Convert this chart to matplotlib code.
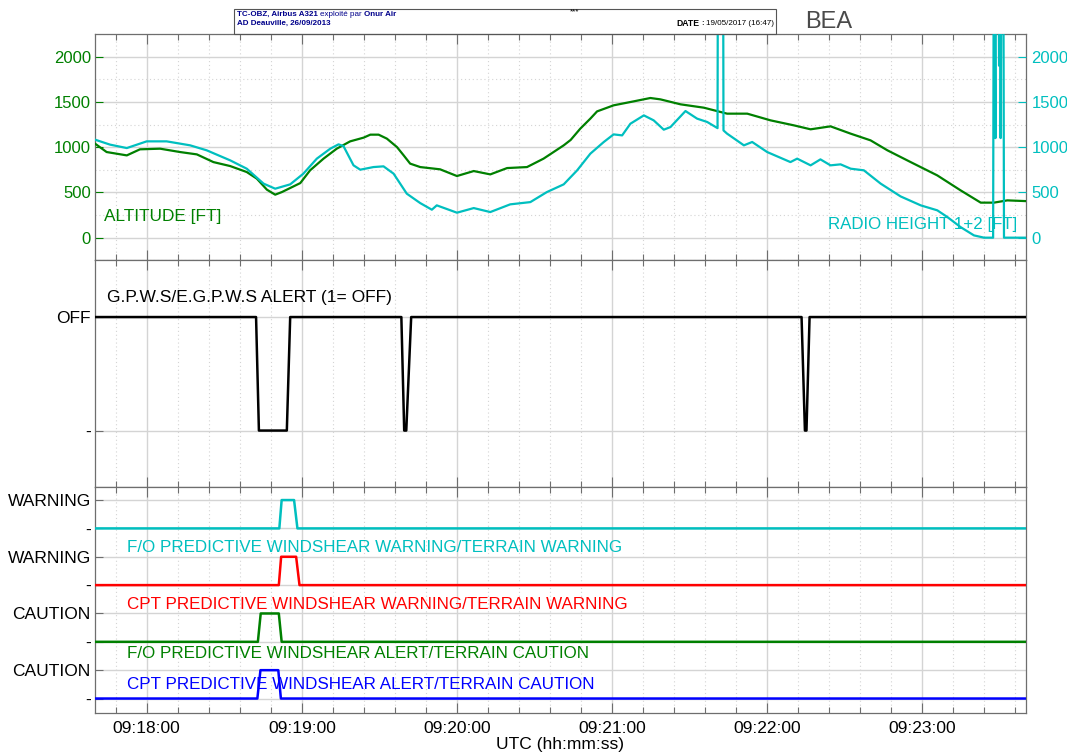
import numpy as np
import matplotlib
matplotlib.use("Agg")
import matplotlib.pyplot as plt
from matplotlib.ticker import FixedLocator, FuncFormatter, MultipleLocator
from matplotlib import font_manager
from matplotlib.patches import Rectangle

# ---------------- data (time in seconds after 09:17:40 UTC) ----------------
T0_LABEL = (9, 17, 40)
x_major_ticks = [20, 80, 140, 200, 260, 320]          # 09:18:00 ... 09:23:00

alt_t = [0, 4.5, 12.3, 17.4, 25.2, 32.9, 39.4, 45.8, 52.3, 58.7, 62.6, 66.5, 69.7,
         72.3, 79.4, 83.2, 88.4, 93.5, 98.7, 103.9, 106.5, 109.7, 112.9, 116.8,
         119.4, 121.9, 125.8, 133.5, 140, 146.5, 152.9, 159.4, 167.1, 173.5,
         181.3, 184.0, 187.7, 191.6, 194.2, 200.6, 208.4, 214.8, 218.7, 226.5,
         235.5, 244.5, 252.3, 261.3, 270.3, 276.8, 284.5, 292.3, 300, 306.5,
         315.5, 325.8, 334.8, 342.6, 347.7, 352.9, 360]
alt_v = [1039, 946, 909, 976, 983, 946, 920, 835, 791, 725, 652, 530, 475,
         504, 603, 744, 873, 983, 1064, 1105, 1138, 1138, 1094, 1001,
         909, 818, 780, 755, 681, 736, 699, 769, 780, 873,
         1020, 1080, 1204, 1315, 1395, 1462, 1506, 1543, 1528, 1473,
         1436, 1370, 1370, 1296, 1241, 1197, 1230, 1149, 1075, 965,
         835, 688, 523, 387, 387, 412, 404]

rh_t = [0, 5.8, 12.3, 20, 27.7, 36.8, 43.2, 52.3, 58.7, 65.2, 69.7, 75.5, 80.6,
        85.8, 91, 94.2, 96.1, 100, 102.6, 107.7, 111.6, 115.5, 120.6, 125.8,
        130.3, 132.2, 140, 146.5, 152.9, 160.6, 168.4, 174.8, 181.3, 186.5,
        191.6, 196.8, 200.6, 203.9, 207.1, 212.3, 216.1, 220, 222.6, 228.4,
        232.9, 236.8, 240.8, 241.0, 242.9, 243.1, 244.5, 251, 254.2, 260, 269,
        271.6, 276.8, 280.6, 284.5, 288.4, 292.3, 297.4, 303.9, 311.6, 319.4,
        325.8, 329.7, 334.8, 340, 343.9, 347.4, 347.7, 348.3, 348.6, 349.4,
        349.7, 350.0, 350.3, 350.7, 351.3, 351.6, 360]
rh_v = [1083, 1028, 990, 1064, 1064, 1020, 965, 854, 762, 597, 541, 589, 707,
        873, 983, 1031, 1012, 799, 751, 780, 788, 707, 486, 382,
        309, 357, 276, 327, 283, 368, 393, 504, 589, 744,
        928, 1057, 1141, 1130, 1259, 1351, 1296, 1193, 1222, 1399,
        1315, 1278, 1210, 4000, 4000, 1185, 1149, 1020, 1057, 946, 835,
        873, 799, 865, 799, 810, 762, 744, 597, 456, 357,
        302, 228, 117, 25, 0, 0, 4000, 1100, 4000, 4000,
        1900, 4000, 1100, 4000, 4000, 0, 0]

gpws_t = [0, 62.3, 63.4, 74.2, 75.5, 118.5, 119.6, 120.4, 122.3, 273.3, 274.6, 275.2, 276.4, 360]
gpws_v = [1, 1, 0, 0, 1, 1, 0, 0, 1, 1, 0, 0, 1, 1]

cpt_caut_t = [0, 62.8, 64.0, 70.9, 71.9, 360]
cpt_caut_v = [0, 0, 1, 1, 0, 0]
fo_caut_t = [0, 63.0, 64.1, 71.1, 72.2, 360]
fo_caut_v = [0, 0, 1, 1, 0, 0]
cpt_warn_t = [0, 71.1, 72.0, 77.8, 79.1, 360]
cpt_warn_v = [0, 0, 1, 1, 0, 0]
fo_warn_t = [0, 71.3, 72.2, 77.0, 78.3, 360]
fo_warn_v = [0, 0, 1, 1, 0, 0]

discrete_names = ["CPT PREDICTIVE WINDSHEAR ALERT/TERRAIN CAUTION",
                  "F/O PREDICTIVE WINDSHEAR ALERT/TERRAIN CAUTION",
                  "CPT PREDICTIVE WINDSHEAR WARNING/TERRAIN WARNING",
                  "F/O PREDICTIVE WINDSHEAR WARNING/TERRAIN WARNING"]
discrete_on_labels = ["CAUTION", "CAUTION", "WARNING", "WARNING"]
alt_ticks = [0, 500, 1000, 1500, 2000]

# ---------------- style ----------------
GREEN = "#008000"
CYAN = "#00BFBF"
RED = "#FF0000"
BLUE = "#0000FF"
GRID = "#d4d4d4"
SPINE = "#6e6e6e"

def has_font(name):
    try:
        font_manager.findfont(font_manager.FontProperties(family=name), fallback_to_default=False)
        return True
    except Exception:
        return False

BASE = "Liberation Sans" if has_font("Liberation Sans") else "DejaVu Sans"
NARROW = "Liberation Sans Narrow" if has_font("Liberation Sans Narrow") else BASE
plt.rcParams["font.family"] = [BASE, "DejaVu Sans"]

fig = plt.figure(figsize=(10.67, 7.53), dpi=100)
W, H = 1067, 753
L, R = 95 / W, 1025.7 / W
def fy(p):
    return 1 - p / H
ax1 = fig.add_axes([L, fy(260.3), R - L, fy(34) - fy(260.3)])
ax2 = fig.add_axes([L, fy(487.3), R - L, fy(260.3) - fy(487.3)])
ax3 = fig.add_axes([L, fy(712.7), R - L, fy(487.3) - fy(712.7)])

minor_x = [v for v in np.arange(8, 360, 12) if v not in x_major_ticks]

def hhmmss(v, pos=None):
    s = T0_LABEL[0] * 3600 + T0_LABEL[1] * 60 + T0_LABEL[2] + int(round(v))
    return "%02d:%02d:%02d" % (s // 3600, (s // 60) % 60, s % 60)

for ax in (ax1, ax2, ax3):
    ax.set_xlim(0, 360)
    ax.xaxis.set_major_locator(FixedLocator(x_major_ticks))
    ax.xaxis.set_minor_locator(FixedLocator(minor_x))
    ax.grid(True, which="major", axis="x", color=GRID, lw=1.0, ls="-")
    ax.grid(True, which="minor", axis="x", color=GRID, lw=0.8, ls=(0, (1, 2.5)))
    ax.tick_params(axis="x", which="both", direction="in", top=True, bottom=True,
                   colors=SPINE, labelbottom=False)
    ax.tick_params(axis="x", which="major", length=7, width=0.8)
    ax.tick_params(axis="x", which="minor", length=4, width=0.8)
    for s in ax.spines.values():
        s.set_color(SPINE)
        s.set_linewidth(0.9)
    ax.set_axisbelow(True)

# ---- panel 1: altitude / radio height ----
ax1.set_ylim(-250, 2250)
ax1.yaxis.set_major_locator(FixedLocator(alt_ticks))
ax1.yaxis.set_minor_locator(MultipleLocator(250))
ax1.grid(True, which="major", axis="y", color=GRID, lw=1.0)
ax1.grid(True, which="minor", axis="y", color=GRID, lw=0.8, ls=(0, (1, 2.5)))
ax1.tick_params(axis="y", which="major", direction="in", length=6, colors=GREEN,
                labelcolor=GREEN, labelsize=12, pad=3)
ax1.tick_params(axis="y", which="minor", length=0)
ax1.plot(alt_t, alt_v, color=GREEN, lw=1.6, zorder=3)
ax1r = ax1.twinx()
ax1r.set_ylim(-250, 2250)
ax1r.yaxis.set_major_locator(FixedLocator(alt_ticks))
ax1r.tick_params(axis="y", direction="in", length=6, colors=CYAN, labelcolor=CYAN,
                 labelsize=12, pad=4)
for s in ax1r.spines.values():
    s.set_visible(False)
ax1r.plot(rh_t, rh_v, color=CYAN, lw=1.6, zorder=2)
ax1r.set_xlim(0, 360)
ax1.text(0.0097, 0.193, "ALTITUDE [FT]", transform=ax1.transAxes, color=GREEN,
         fontsize=12.4, ha="left", va="center")
ax1r.text(0.991, 0.158, "RADIO HEIGHT 1+2 [FT]", transform=ax1.transAxes, color=CYAN,
          fontsize=12.2, ha="right", va="center", zorder=5)

# ---- panel 2: GPWS ----
ax2.set_ylim(-0.5, 1.5)
ax2.set_yticks([0, 1])
ax2.set_yticklabels(["-", "OFF"])
ax2.grid(True, which="major", axis="y", color=GRID, lw=1.0)
ax2.tick_params(axis="y", direction="in", length=6, colors=SPINE, labelcolor="black",
                labelsize=12.5, pad=3)
ax2.plot(gpws_t, gpws_v, color="black", lw=1.8, zorder=3)
ax2.text(0.0129, 0.838, "G.P.W.S/E.G.P.W.S ALERT (1= OFF)", transform=ax2.transAxes,
         color="black", fontsize=12.5, ha="left", va="center")

# ---- panel 3: discrete alerts ----
ax3.set_ylim(-0.5, 7.45)
series = [(cpt_caut_t, cpt_caut_v, BLUE), (fo_caut_t, fo_caut_v, GREEN),
          (cpt_warn_t, cpt_warn_v, RED), (fo_warn_t, fo_warn_v, CYAN)]
yt, yl = [], []
text_y = [0.48, 1.58, 3.31, 5.32]
for k, ((tt, vv, c), name, lab) in enumerate(zip(series, discrete_names, discrete_on_labels)):
    off = 2 * k
    ax3.plot(tt, np.asarray(vv) + off, color=c, lw=1.8, zorder=3)
    yt += [off, off + 1]
    yl += ["-", lab]
    ax3.text(12.4, text_y[k], name, color=c, fontsize=12.25, ha="left", va="center", zorder=4)
ax3.set_yticks(yt)
ax3.set_yticklabels(yl)
ax3.grid(True, which="major", axis="y", color=GRID, lw=1.0)
ax3.tick_params(axis="y", direction="in", length=6, colors=SPINE, labelcolor="black",
                labelsize=12.5, pad=3)
ax3.tick_params(axis="x", which="major", labelbottom=True, labelsize=12.5,
                labelcolor="black", pad=6)
ax3.xaxis.set_major_formatter(FuncFormatter(hhmmss))
for lbl in ax3.get_xticklabels():
    lbl.set_family([NARROW, "DejaVu Sans"])
ax3.set_xlabel("UTC (hh:mm:ss)", fontsize=12.5, family=[NARROW, "DejaVu Sans"], labelpad=1)

# ---- header ----
fig.patches.append(Rectangle((234 / W, fy(34)), (776 - 234) / W, fy(9) - fy(34),
                             transform=fig.transFigure, fill=False, ec="#555555", lw=0.8))
NAVY = "#00008B"
HFS = 5.8
renderer = fig.canvas.get_renderer()

def chain(x_px, y_px, parts, align="left"):
    """Place text pieces one after another; parts = [(text, weight, color, size)]."""
    if align == "left":
        x = x_px
        for txt, wt, col, fs in parts:
            t = fig.text(x / W, fy(y_px), txt, fontsize=fs, weight=wt, color=col,
                         va="center", ha="left")
            bb = t.get_window_extent(renderer)
            x = bb.x1 + 2.2
    else:
        x = x_px
        for txt, wt, col, fs in reversed(parts):
            t = fig.text(x / W, fy(y_px), txt, fontsize=fs, weight=wt, color=col,
                         va="center", ha="right")
            bb = t.get_window_extent(renderer)
            x = bb.x0 - 2.2

chain(237, 14, [("TC-OBZ, Airbus A321", "bold", NAVY, HFS),
                ("exploité par", "normal", NAVY, HFS),
                ("Onur Air", "bold", NAVY, HFS)])
chain(237, 23.5, [("AD Deauville, 26/09/2013", "bold", NAVY, HFS)])
fig.text(574 / W, fy(12), "***", fontsize=HFS, color="black", va="center", ha="center")
chain(774, 23.5, [("DATE", "bold", "black", 6.2), (":", "bold", "black", HFS),
                  ("19/05/2017 (16:47)", "normal", "black", HFS)], align="right")
fig.text(829 / W, fy(21.5), "BEA", fontsize=17, color="#4a4a4a", va="center",
         ha="center")

fig.savefig("out.png", dpi=100)
